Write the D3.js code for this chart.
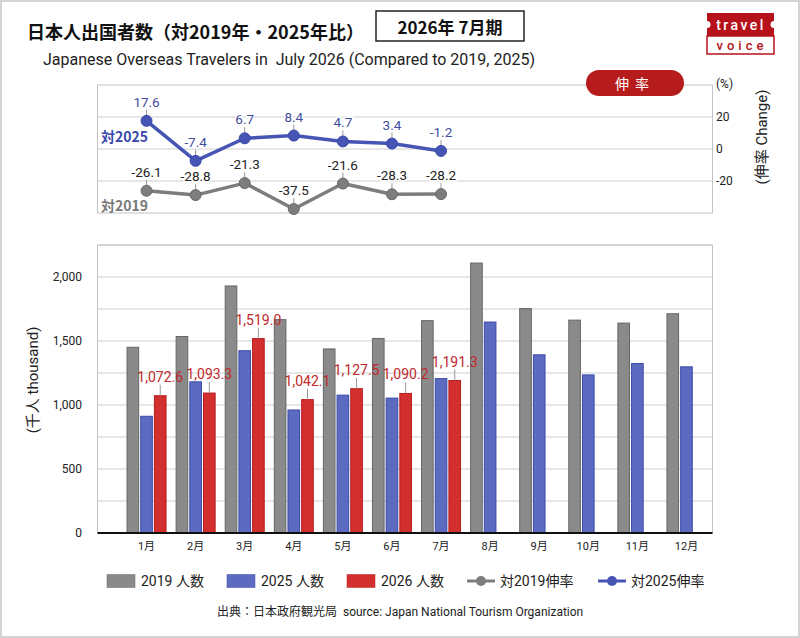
<!DOCTYPE html>
<html>
<head>
<meta charset="utf-8">
<script src="https://cdn.jsdelivr.net/npm/d3@7"></script>
<style>
  body { margin: 0; background: #fff; }
  svg { display: block; font-family: Roboto, "Noto Sans CJK JP", sans-serif; }
</style>
</head>
<body>
<div id="chart"></div>
<script>
// Monthly data (thousand travelers)
const months = ['1月', '2月', '3月', '4月', '5月', '6月', '7月', '8月', '9月', '10月', '11月', '12月'];
const travelers2019 = [1451, 1535, 1930, 1667, 1438, 1520, 1659, 2109, 1753, 1663, 1640, 1713];
const travelers2025 = [912, 1181, 1424, 961, 1077, 1054, 1206, 1648, 1392, 1235, 1324, 1298];
const travelers2026 = [1072.6, 1093.3, 1519.0, 1042.1, 1127.5, 1090.2, 1191.3];
// Change (%)
const rateVs2025 = [17.6, -7.4, 6.7, 8.4, 4.7, 3.4, -1.2];
const rateVs2019 = [-26.1, -28.8, -21.3, -37.5, -21.6, -28.3, -28.2];
const barTicks = [0, 500, 1000, 1500, 2000];
const rateTicks = [20, 0, -20];

const W = 800, H = 638;
const COL = {
  gray: '#8a8a8a', grayStroke: '#666',
  blue: '#5c6bc0', blueStroke: '#3949ab',
  red: '#d32f2f', redStroke: '#b71c1c',
  grid: '#cfcfcf', brand: '#b5121b'
};

const svg = d3.select('#chart').append('svg')
  .attr('width', W).attr('height', H);

svg.append('rect').attr('x', 1).attr('y', 1).attr('width', W - 2).attr('height', H - 2)
  .attr('fill', '#fff').attr('stroke', '#d4d4d4').attr('stroke-width', 2);

// ---- Header ----
svg.append('text').attr('x', 27).attr('y', 31).attr('dominant-baseline', 'central')
  .attr('font-size', 18).attr('font-weight', 'bold').attr('fill', '#111')
  .attr('font-family', '"Noto Sans CJK JP", sans-serif')
  .text('日本人出国者数（対2019年・2025年比）');

svg.append('rect').attr('x', 376).attr('y', 11).attr('width', 148).attr('height', 30)
  .attr('fill', '#fff').attr('stroke', '#222').attr('stroke-width', 1.5);
svg.append('text').attr('x', 450).attr('y', 26.5).attr('dominant-baseline', 'central')
  .attr('text-anchor', 'middle').attr('font-size', 17).attr('font-weight', 'bold').attr('fill', '#111')
  .attr('font-family', '"Noto Sans CJK JP", sans-serif')
  .text('2026年 7月期');

svg.append('text').attr('x', 43).attr('y', 59).attr('dominant-baseline', 'central')
  .attr('font-size', 16).attr('fill', '#222')
  .style('white-space', 'pre')
  .text('Japanese Overseas Travelers in  July 2026 (Compared to 2019, 2025)');

// Logo
const logo = svg.append('g');
logo.append('rect').attr('x', 707).attr('y', 36).attr('width', 67).attr('height', 18)
  .attr('fill', '#fff').attr('stroke', COL.brand).attr('stroke-width', 1.5);
logo.append('rect').attr('x', 707).attr('y', 13).attr('width', 67).attr('height', 23).attr('fill', COL.brand);
logo.selectAll('circle').data([707, 774]).join('circle')
  .attr('cx', d => d).attr('cy', 24.5).attr('r', 3.5).attr('fill', '#fff');
logo.append('text').attr('x', 741).attr('y', 24.5).attr('dominant-baseline', 'central')
  .attr('text-anchor', 'middle').attr('font-size', 14).attr('font-weight', 500).attr('fill', '#fff')
  .attr('letter-spacing', 2.5).text('travel');
logo.append('text').attr('x', 742).attr('y', 45.5).attr('dominant-baseline', 'central')
  .attr('text-anchor', 'middle').attr('font-size', 13).attr('font-weight', 500).attr('fill', COL.brand)
  .attr('letter-spacing', 4).text('voice');

// ---- Scales ----
const plotL = 97.5, plotR = 712.5;
const x = d3.scaleBand().domain(months).range([122, 711]);
const xc = m => x(m) + x.bandwidth() / 2;
const series = ['2019', '2025', '2026'];
const x1 = d3.scaleBand().domain(series).range([-19.5, 19.5]).paddingInner(0.15);

// ---- Rate chart (top) ----
const rTop = 85, rBot = 213;
const yr = d3.scaleLinear().domain([-40, 40]).range([rBot, rTop]);

const rateG = svg.append('g');
rateG.selectAll('line.grid').data(rateTicks).join('line').attr('class', 'grid')
  .attr('x1', plotL).attr('x2', plotR).attr('y1', d => yr(d)).attr('y2', d => yr(d))
  .attr('stroke', COL.grid);
rateG.append('rect').attr('x', plotL).attr('y', rTop).attr('width', plotR - plotL).attr('height', rBot - rTop)
  .attr('fill', 'none').attr('stroke', '#c4c4c4');
rateG.selectAll('text.tick').data(rateTicks).join('text').attr('class', 'tick')
  .attr('x', 716).attr('y', d => yr(d)).attr('dominant-baseline', 'central')
  .attr('font-size', 12).attr('fill', '#222').text(d => d);
rateG.append('text').attr('x', 716).attr('y', 84).attr('dominant-baseline', 'central')
  .attr('font-size', 12).attr('fill', '#222').text('(%)');
rateG.append('text').attr('transform', 'translate(762,137) rotate(-90)')
  .attr('text-anchor', 'middle').attr('dominant-baseline', 'central')
  .attr('font-size', 15).attr('fill', '#222').text('(伸率 Change)');

// Pill
rateG.append('rect').attr('x', 586).attr('y', 70).attr('width', 98).attr('height', 26).attr('rx', 13)
  .attr('fill', COL.redStroke);
rateG.append('text').attr('x', 635).attr('y', 83).attr('dominant-baseline', 'central')
  .attr('text-anchor', 'middle').attr('font-size', 14).attr('fill', '#fff')
  .attr('letter-spacing', 6).attr('font-family', '"Noto Sans CJK JP", sans-serif')
  .text('伸率');

function drawRate(values, color, stroke, labelColor) {
  const pts = values.map((v, i) => ({ m: months[i], v }));
  const line = d3.line().x(d => xc(d.m)).y(d => yr(d.v));
  rateG.append('path').datum(pts).attr('d', line)
    .attr('fill', 'none').attr('stroke', color).attr('stroke-width', 3.5).attr('stroke-linejoin', 'round');
  rateG.selectAll(null).data(pts).join('line')
    .attr('x1', d => xc(d.m)).attr('x2', d => xc(d.m))
    .attr('y1', d => yr(d.v) - 11).attr('y2', d => yr(d.v))
    .attr('stroke', '#999');
  rateG.selectAll(null).data(pts).join('circle')
    .attr('cx', d => xc(d.m)).attr('cy', d => yr(d.v)).attr('r', 5.5)
    .attr('fill', color).attr('stroke', stroke).attr('stroke-width', 1);
  rateG.selectAll(null).data(pts).join('text')
    .attr('x', d => xc(d.m)).attr('y', d => yr(d.v) - 19)
    .attr('text-anchor', 'middle').attr('dominant-baseline', 'central')
    .attr('font-size', 13.5).attr('fill', labelColor)
    .attr('stroke', '#fff').attr('stroke-width', 3).attr('paint-order', 'stroke')
    .text(d => d.v.toFixed(1));
}
drawRate(rateVs2019, '#7d7d7d', '#6a6a6a', '#222');
drawRate(rateVs2025, '#4654b4', '#3949ab', '#3f4d9e');

rateG.append('text').attr('x', 101).attr('y', 136).attr('dominant-baseline', 'central')
  .attr('font-size', 14).attr('font-weight', 'bold').attr('fill', '#3949ab')
  .attr('font-family', '"Noto Sans CJK JP", sans-serif').text('対2025');
rateG.append('text').attr('x', 101).attr('y', 205).attr('dominant-baseline', 'central')
  .attr('font-size', 14).attr('font-weight', 'bold').attr('fill', '#7a7a7a')
  .attr('font-family', '"Noto Sans CJK JP", sans-serif').text('対2019');

// ---- Bar chart ----
const bTop = 245, bBot = 533;
const y = d3.scaleLinear().domain([0, 2250]).range([bBot, bTop]);
const bars = svg.append('g');

bars.selectAll('line.grid').data(d3.range(250, 2251, 250)).join('line').attr('class', 'grid')
  .attr('x1', plotL).attr('x2', plotR).attr('y1', d => y(d)).attr('y2', d => y(d))
  .attr('stroke', COL.grid);
bars.append('path')
  .attr('d', `M${plotL},${bBot} V${bTop} H${plotR} V${bBot}`)
  .attr('fill', 'none').attr('stroke', '#c4c4c4');
bars.selectAll('text.tick').data(barTicks).join('text').attr('class', 'tick')
  .attr('x', 82).attr('y', d => y(d)).attr('text-anchor', 'end').attr('dominant-baseline', 'central')
  .attr('font-size', 12).attr('fill', '#222').text(d => d3.format(',')(d));
bars.append('text').attr('transform', 'translate(33,380) rotate(-90)')
  .attr('text-anchor', 'middle').attr('dominant-baseline', 'central')
  .attr('font-size', 15).attr('fill', '#222').text('(千人 thousand)');

const barData = [];
months.forEach((m, i) => {
  barData.push({ m, s: '2019', v: travelers2019[i] });
  barData.push({ m, s: '2025', v: travelers2025[i] });
  if (travelers2026[i] != null) barData.push({ m, s: '2026', v: travelers2026[i] });
});
const fill = { '2019': COL.gray, '2025': COL.blue, '2026': COL.red };
const edge = { '2019': COL.grayStroke, '2025': COL.blueStroke, '2026': COL.redStroke };

bars.selectAll('rect.bar').data(barData).join('rect').attr('class', 'bar')
  .attr('x', d => xc(d.m) + x1(d.s)).attr('width', x1.bandwidth())
  .attr('y', d => y(d.v)).attr('height', d => bBot - y(d.v))
  .attr('fill', d => fill[d.s]).attr('stroke', d => edge[d.s]).attr('stroke-width', 1);

bars.append('line').attr('x1', plotL).attr('x2', plotR).attr('y1', bBot).attr('y2', bBot)
  .attr('stroke', '#111').attr('stroke-width', 2);

bars.selectAll('text.month').data(months).join('text').attr('class', 'month')
  .attr('x', d => xc(d)).attr('y', 546).attr('text-anchor', 'middle').attr('dominant-baseline', 'central')
  .attr('font-size', 11).attr('fill', '#222').text(d => d);

const red = barData.filter(d => d.s === '2026');
bars.selectAll('line.lead').data(red).join('line').attr('class', 'lead')
  .attr('x1', d => xc(d.m) + x1('2026') + x1.bandwidth() / 2)
  .attr('x2', d => xc(d.m) + x1('2026') + x1.bandwidth() / 2)
  .attr('y1', d => y(d.v) - 11).attr('y2', d => y(d.v))
  .attr('stroke', '#999');
bars.selectAll('text.val').data(red).join('text').attr('class', 'val')
  .attr('x', d => xc(d.m) + x1('2026') + x1.bandwidth() / 2).attr('y', d => y(d.v) - 19)
  .attr('text-anchor', 'middle').attr('dominant-baseline', 'central')
  .attr('font-size', 14).attr('fill', '#c0282b')
  .text(d => d3.format(',.1f')(d.v));

// ---- Legend ----
const legY = 581;
const leg = svg.append('g');
const swatches = [
  { x: 107, s: '2019', label: '2019 人数' },
  { x: 227, s: '2025', label: '2025 人数' },
  { x: 347, s: '2026', label: '2026 人数' }
];
swatches.forEach(d => {
  leg.append('rect').attr('x', d.x).attr('y', legY - 6.5).attr('width', 28).attr('height', 13)
    .attr('fill', fill[d.s]).attr('stroke', edge[d.s]).attr('stroke-opacity', 0.5);
  leg.append('text').attr('x', d.x + 34).attr('y', legY).attr('dominant-baseline', 'central')
    .attr('font-size', 14).attr('fill', '#222').text(d.label);
});
const lineKeys = [
  { x: 467, color: '#7d7d7d', label: '対2019伸率' },
  { x: 598, color: '#4654b4', label: '対2025伸率' }
];
lineKeys.forEach(d => {
  leg.append('line').attr('x1', d.x).attr('x2', d.x + 28).attr('y1', legY).attr('y2', legY)
    .attr('stroke', d.color).attr('stroke-width', 3);
  leg.append('circle').attr('cx', d.x + 14).attr('cy', legY).attr('r', 5).attr('fill', d.color);
  leg.append('text').attr('x', d.x + 33).attr('y', legY).attr('dominant-baseline', 'central')
    .attr('font-size', 14).attr('fill', '#222').text(d.label);
});

svg.append('text').attr('x', 217).attr('y', 612).attr('dominant-baseline', 'central')
  .attr('font-size', 12).attr('fill', '#222').style('white-space', 'pre')
  .text('出典：日本政府観光局  source: Japan National Tourism Organization');
</script>
</body>
</html>
